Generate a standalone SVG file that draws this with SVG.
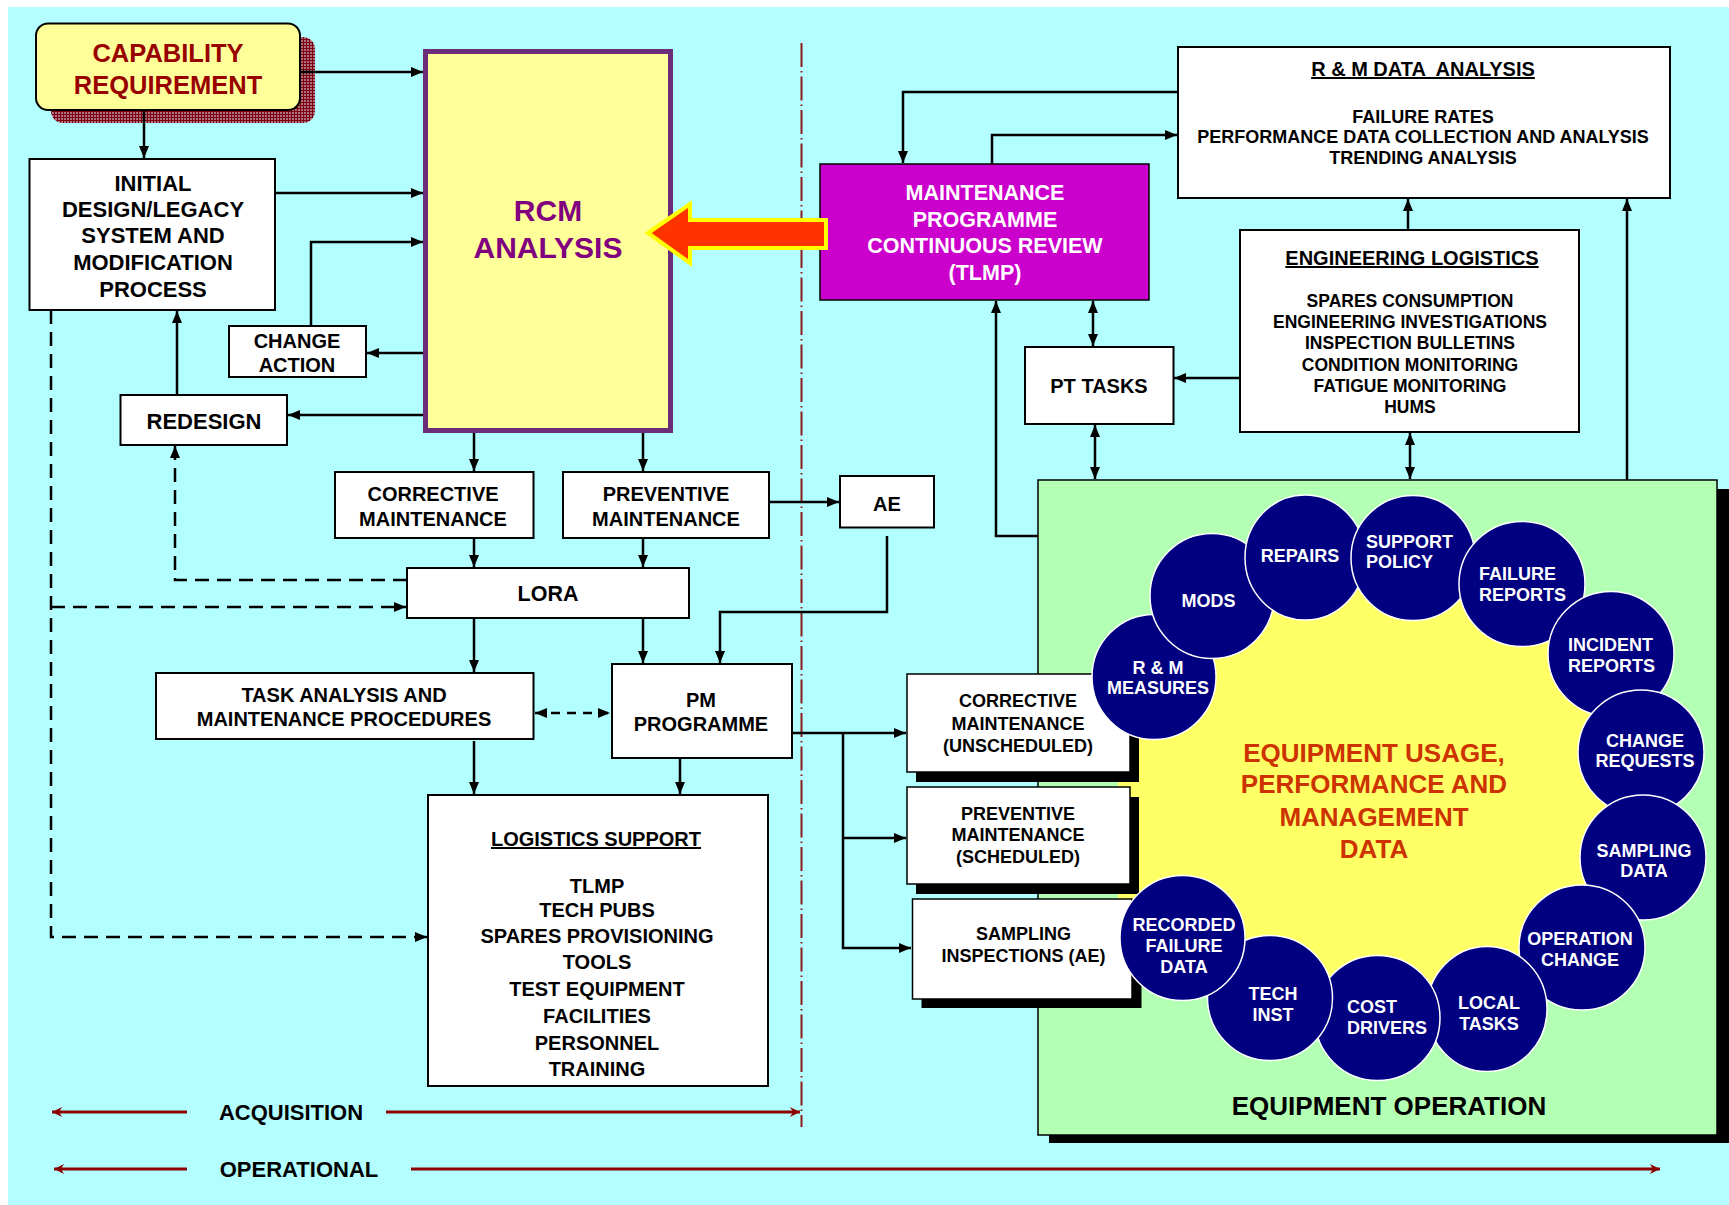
<svg xmlns="http://www.w3.org/2000/svg" width="1729" height="1205" viewBox="0 0 1729 1205">
  <style>
    .t{font-family:"Liberation Sans",Arial,Helvetica,sans-serif;font-weight:bold;text-anchor:middle;fill:#000}
    .s{text-anchor:start}
    .f18{font-size:18px}.f20{font-size:20px}.f22{font-size:22px}
    .u{text-decoration:underline}
    .box{fill:#fff;stroke:#000;stroke-width:2}
    .box2{fill:#fff;stroke:#000;stroke-width:1.5}
    .shd{fill:#000}
    .circ{fill:#000080;stroke:#fff;stroke-width:1.5}
    .ct{fill:#fff;font-size:18px}
    .ln{fill:none;stroke:#000;stroke-width:2.5}
    .dsh{stroke-dasharray:14 8}
    .arr{marker-end:url(#ah)}
    .bi{marker-start:url(#ah);marker-end:url(#ah)}
    .red{fill:none;stroke:#8B0000;stroke-width:3;marker-end:url(#rh)}
  </style>
  <defs>
    <marker id="ah" viewBox="0 0 12 10" refX="12" refY="5" markerWidth="12" markerHeight="10" markerUnits="userSpaceOnUse" orient="auto-start-reverse">
      <path d="M0,0L12,5L0,10z" fill="#000"/>
    </marker>
    <marker id="rh" viewBox="0 0 10 10" refX="10" refY="5" markerWidth="10" markerHeight="10" markerUnits="userSpaceOnUse" orient="auto">
      <path d="M0,0L10,5L0,10L3,5z" fill="#8B0000"/>
    </marker>
    <pattern id="hatch" width="3" height="3" patternUnits="userSpaceOnUse">
      <rect width="3" height="3" fill="#b07080"/>
      <path d="M0,0.5H3M0.5,0V3" stroke="#7a0010" stroke-width="1"/>
    </pattern>
  </defs>

  <!-- page background -->
  <rect x="8" y="7" width="1721" height="1198" fill="#B3FFFF"/>

  <!-- acquisition / operational boundary -->
  <path d="M801.5,43V1127" fill="none" stroke="#8B1A1A" stroke-width="2" stroke-dasharray="24 4 1.5 4"/>

  <g id="capability">
    <rect x="51" y="37" width="264" height="86" rx="12" fill="url(#hatch)"/>
    <rect x="36" y="23.5" width="264" height="86.5" rx="12" fill="#FFFF99" stroke="#000" stroke-width="2"/>
    <text class="t" x="168" y="62" style="font-size:25.5px;fill:#990000">CAPABILITY</text>
    <text class="t" x="168" y="94" style="font-size:25.5px;fill:#990000">REQUIREMENT</text>
  </g>

  <g id="initial-design">
    <rect class="box" x="29.5" y="159" width="245.5" height="151"/>
    <text class="t f22" x="153" y="191">INITIAL</text>
    <text class="t f22" x="153" y="217">DESIGN/LEGACY</text>
    <text class="t f22" x="153" y="243">SYSTEM AND</text>
    <text class="t f22" x="153" y="270">MODIFICATION</text>
    <text class="t f22" x="153" y="297">PROCESS</text>
  </g>

  <g id="change-action">
    <rect class="box" x="229" y="326" width="137" height="51"/>
    <text class="t f20" x="297" y="348">CHANGE</text>
    <text class="t f20" x="297" y="372">ACTION</text>
  </g>

  <g id="redesign">
    <rect class="box" x="120.5" y="395" width="166.5" height="50"/>
    <text class="t f22" x="204" y="429">REDESIGN</text>
  </g>

  <g id="rcm-analysis">
    <rect x="425.5" y="51.5" width="245" height="379" fill="#FFFF99" stroke="#6B2C7A" stroke-width="5"/>
    <text class="t" x="548" y="221" style="font-size:30px;fill:#800080">RCM</text>
    <text class="t" x="548" y="258" style="font-size:30px;fill:#800080">ANALYSIS</text>
  </g>

  <g id="corrective-maintenance">
    <rect class="box" x="335" y="472" width="198.5" height="66"/>
    <text class="t f20" x="433" y="501">CORRECTIVE</text>
    <text class="t f20" x="433" y="526">MAINTENANCE</text>
  </g>

  <g id="preventive-maintenance">
    <rect class="box" x="563" y="472" width="206" height="66"/>
    <text class="t f20" x="666" y="501">PREVENTIVE</text>
    <text class="t f20" x="666" y="526">MAINTENANCE</text>
  </g>

  <g id="ae">
    <rect class="box" x="840" y="476" width="94" height="51.5"/>
    <text class="t f20" x="887" y="511">AE</text>
  </g>

  <g id="lora">
    <rect class="box" x="407" y="568" width="282" height="50"/>
    <text class="t" x="548" y="601" style="font-size:21.5px">LORA</text>
  </g>

  <g id="task-analysis">
    <rect class="box" x="156" y="673" width="377.5" height="66"/>
    <text class="t f20" x="344" y="702">TASK ANALYSIS AND</text>
    <text class="t f20" x="344" y="726">MAINTENANCE PROCEDURES</text>
  </g>

  <g id="pm-programme">
    <rect class="box" x="612" y="664" width="180" height="94"/>
    <text class="t f20" x="701" y="707">PM</text>
    <text class="t f20" x="701" y="731">PROGRAMME</text>
  </g>

  <g id="logistics-support">
    <rect class="box" x="428" y="795" width="340" height="291"/>
    <text class="t f20 u" x="596" y="846">LOGISTICS SUPPORT</text>
    <text class="t f20" x="597" y="893">TLMP</text>
    <text class="t f20" x="597" y="917">TECH PUBS</text>
    <text class="t f20" x="597" y="943">SPARES PROVISIONING</text>
    <text class="t f20" x="597" y="969">TOOLS</text>
    <text class="t f20" x="597" y="996">TEST EQUIPMENT</text>
    <text class="t f20" x="597" y="1023">FACILITIES</text>
    <text class="t f20" x="597" y="1050">PERSONNEL</text>
    <text class="t f20" x="597" y="1076">TRAINING</text>
  </g>

  <g id="tlmp-review">
    <rect x="820" y="164" width="329" height="136" fill="#CC00CC" stroke="#000" stroke-width="1.5"/>
    <text class="t" x="985" y="200" style="font-size:21.5px;fill:#fff">MAINTENANCE</text>
    <text class="t" x="985" y="227" style="font-size:21.5px;fill:#fff">PROGRAMME</text>
    <text class="t" x="985" y="253" style="font-size:21.5px;fill:#fff">CONTINUOUS REVIEW</text>
    <text class="t" x="985" y="280" style="font-size:21.5px;fill:#fff">(TLMP)</text>
  </g>

  <g id="rm-data-analysis">
    <rect class="box" x="1178" y="47" width="492" height="151"/>
    <text class="t f20 u" x="1423" y="76" xml:space="preserve">R &amp; M DATA  ANALYSIS</text>
    <text class="t f18" x="1423" y="123">FAILURE RATES</text>
    <text class="t f18" x="1423" y="143">PERFORMANCE DATA COLLECTION AND ANALYSIS</text>
    <text class="t f18" x="1423" y="164">TRENDING ANALYSIS</text>
  </g>

  <g id="pt-tasks">
    <rect class="box" x="1025" y="347" width="148.5" height="77"/>
    <text class="t f20" x="1099" y="393">PT TASKS</text>
  </g>

  <g id="engineering-logistics">
    <rect class="box" x="1240" y="230" width="339" height="202"/>
    <text class="t f20 u" x="1412" y="265">ENGINEERING LOGISTICS</text>
    <text class="t" x="1410" y="307" style="font-size:17.5px">SPARES CONSUMPTION</text>
    <text class="t" x="1410" y="328" style="font-size:17.5px">ENGINEERING INVESTIGATIONS</text>
    <text class="t" x="1410" y="349" style="font-size:17.5px">INSPECTION BULLETINS</text>
    <text class="t" x="1410" y="371" style="font-size:17.5px">CONDITION MONITORING</text>
    <text class="t" x="1410" y="392" style="font-size:17.5px">FATIGUE MONITORING</text>
    <text class="t" x="1410" y="413" style="font-size:17.5px">HUMS</text>
  </g>

  <g id="equipment-operation">
    <rect class="shd" x="1049" y="489" width="700" height="654"/>
    <rect x="1038" y="480" width="679" height="655" fill="#B3FFB3" stroke="#000" stroke-width="1.5"/>
    <polygon fill="#FFFF66" points="1118,690 1154,677 1212,596 1305,557 1413,558 1522,584 1611,654 1641,752 1643,857 1582,947 1487,1009 1377,1018 1270,998 1182,938 1118,925"/>
    <text class="t" x="1374" y="762" style="font-size:26px;fill:#CC3300">EQUIPMENT USAGE,</text>
    <text class="t" x="1374" y="793" style="font-size:26px;fill:#CC3300">PERFORMANCE AND</text>
    <text class="t" x="1374" y="826" style="font-size:26px;fill:#CC3300">MANAGEMENT</text>
    <text class="t" x="1374" y="858" style="font-size:26px;fill:#CC3300">DATA</text>
    <text class="t" x="1389" y="1115" style="font-size:26px">EQUIPMENT OPERATION</text>
  </g>

  <g id="corrective-unscheduled">
    <rect class="shd" x="916" y="684" width="223" height="98"/>
    <rect class="box2" x="907" y="674" width="223" height="98"/>
    <text class="t f18" x="1018" y="707">CORRECTIVE</text>
    <text class="t f18" x="1018" y="730">MAINTENANCE</text>
    <text class="t f18" x="1018" y="752">(UNSCHEDULED)</text>
  </g>

  <g id="preventive-scheduled">
    <rect class="shd" x="916" y="797" width="223" height="97"/>
    <rect class="box2" x="907" y="787" width="223" height="97"/>
    <text class="t f18" x="1018" y="820">PREVENTIVE</text>
    <text class="t f18" x="1018" y="841">MAINTENANCE</text>
    <text class="t f18" x="1018" y="863">(SCHEDULED)</text>
  </g>

  <g id="sampling-inspections">
    <rect class="shd" x="921.5" y="908" width="220" height="100"/>
    <rect class="box2" x="912.5" y="899" width="219.5" height="100"/>
    <text class="t f18" x="1023.5" y="940">SAMPLING</text>
    <text class="t f18" x="1023.5" y="962">INSPECTIONS (AE)</text>
  </g>

  <!-- data sources ringed round the usage data -->
  <g id="rm-measures">
    <ellipse class="circ" cx="1154" cy="677" rx="62" ry="62.5"/>
    <text class="t ct" x="1158" y="674">R &amp; M</text>
    <text class="t ct" x="1158" y="694">MEASURES</text>
  </g>
  <g id="mods">
    <ellipse class="circ" cx="1212" cy="596" rx="62" ry="62.5"/>
    <text class="t ct" x="1208.5" y="607">MODS</text>
  </g>
  <g id="repairs">
    <ellipse class="circ" cx="1305" cy="557.5" rx="60" ry="62.5"/>
    <text class="t ct" x="1300" y="562">REPAIRS</text>
  </g>
  <g id="support-policy">
    <ellipse class="circ" cx="1413" cy="558" rx="62" ry="62.5"/>
    <text class="t ct s" x="1366" y="548">SUPPORT</text>
    <text class="t ct s" x="1366" y="568">POLICY</text>
  </g>
  <g id="failure-reports">
    <ellipse class="circ" cx="1522" cy="584" rx="63" ry="62.5"/>
    <text class="t ct s" x="1479" y="580">FAILURE</text>
    <text class="t ct s" x="1479" y="601">REPORTS</text>
  </g>
  <g id="incident-reports">
    <ellipse class="circ" cx="1611" cy="654" rx="63" ry="62.5"/>
    <text class="t ct s" x="1568" y="651">INCIDENT</text>
    <text class="t ct s" x="1568" y="672">REPORTS</text>
  </g>
  <g id="change-requests">
    <ellipse class="circ" cx="1641" cy="752.5" rx="63" ry="62.5"/>
    <text class="t ct" x="1645" y="747">CHANGE</text>
    <text class="t ct" x="1645" y="767">REQUESTS</text>
  </g>
  <g id="sampling-data">
    <ellipse class="circ" cx="1643" cy="857.5" rx="63" ry="62.5"/>
    <text class="t ct" x="1644" y="857">SAMPLING</text>
    <text class="t ct" x="1644" y="877">DATA</text>
  </g>
  <g id="operation-change">
    <ellipse class="circ" cx="1582" cy="947.5" rx="63" ry="62.5"/>
    <text class="t ct" x="1580" y="945">OPERATION</text>
    <text class="t ct" x="1580" y="966">CHANGE</text>
  </g>
  <g id="local-tasks">
    <ellipse class="circ" cx="1487" cy="1009" rx="60" ry="62.5"/>
    <text class="t ct" x="1489" y="1009">LOCAL</text>
    <text class="t ct" x="1489" y="1030">TASKS</text>
  </g>
  <g id="cost-drivers">
    <ellipse class="circ" cx="1377.5" cy="1018" rx="62.5" ry="62.5"/>
    <text class="t ct s" x="1347" y="1013">COST</text>
    <text class="t ct s" x="1347" y="1034">DRIVERS</text>
  </g>
  <g id="tech-inst">
    <ellipse class="circ" cx="1270" cy="998" rx="62.5" ry="62.5"/>
    <text class="t ct" x="1273" y="1000">TECH</text>
    <text class="t ct" x="1273" y="1021">INST</text>
  </g>
  <g id="recorded-failure-data">
    <ellipse class="circ" cx="1182.5" cy="938" rx="62.5" ry="62.5"/>
    <text class="t ct" x="1184" y="931">RECORDED</text>
    <text class="t ct" x="1184" y="952">FAILURE</text>
    <text class="t ct" x="1184" y="973">DATA</text>
  </g>

  <!-- review feeds back into the RCM analysis -->
  <g id="feedback-arrow">
    <polygon points="648,233 690,204 690,220 826,220 826,248 690,248 690,263" fill="#FF3300" stroke="#FFFF00" stroke-width="4"/>
  </g>

  <g id="connectors">
    <path class="ln arr" d="M300,72H423"/>
    <path class="ln arr" d="M144,110V158"/>
    <path class="ln arr" d="M275,193H423"/>
    <path class="ln arr" d="M311,326V242H423"/>
    <path class="ln arr" d="M423,353H367"/>
    <path class="ln arr" d="M423,415H288"/>
    <path class="ln arr" d="M177,395V311"/>
    <path class="ln arr" d="M474,433V471"/>
    <path class="ln arr" d="M643,433V471"/>
    <path class="ln arr" d="M474,538V567"/>
    <path class="ln arr" d="M643,538V567"/>
    <path class="ln arr" d="M769,502H839"/>
    <path class="ln arr" d="M887,536V612H720V663"/>
    <path class="ln arr" d="M474,618V672"/>
    <path class="ln arr" d="M643,618V663"/>
    <path class="ln arr" d="M474,741V794"/>
    <path class="ln arr" d="M680,758V794"/>
    <path class="ln arr" d="M792,733H906"/>
    <path class="ln arr" d="M843,733V948H911"/>
    <path class="ln arr" d="M843,838H906"/>
    <path class="ln arr" d="M1178,92H903V163"/>
    <path class="ln arr" d="M992,164V135H1177"/>
    <path class="ln bi" d="M1093,301V346"/>
    <path class="ln arr" d="M1240,378H1174"/>
    <path class="ln arr" d="M1408,230V199"/>
    <path class="ln bi" d="M1095,425V479"/>
    <path class="ln bi" d="M1410,433V479"/>
    <path class="ln arr" d="M1038,536H996V301"/>
    <path class="ln arr" d="M1627,480V199"/>
    <path class="ln dsh arr" d="M51,310V937H427"/>
    <path class="ln dsh arr" d="M51,607H406"/>
    <path class="ln dsh arr" d="M407,580H175V446"/>
    <path class="ln bi" style="stroke-dasharray:9 7" d="M535,713H610"/>
  </g>

  <g id="phase-scales">
    <path class="red" d="M187,1112H52"/>
    <path class="red" d="M386,1112H800"/>
    <text class="t f22" x="291" y="1120">ACQUISITION</text>
    <path class="red" d="M187,1169H54"/>
    <path class="red" d="M411,1169H1660"/>
    <text class="t f22" x="299" y="1177">OPERATIONAL</text>
  </g>
</svg>
